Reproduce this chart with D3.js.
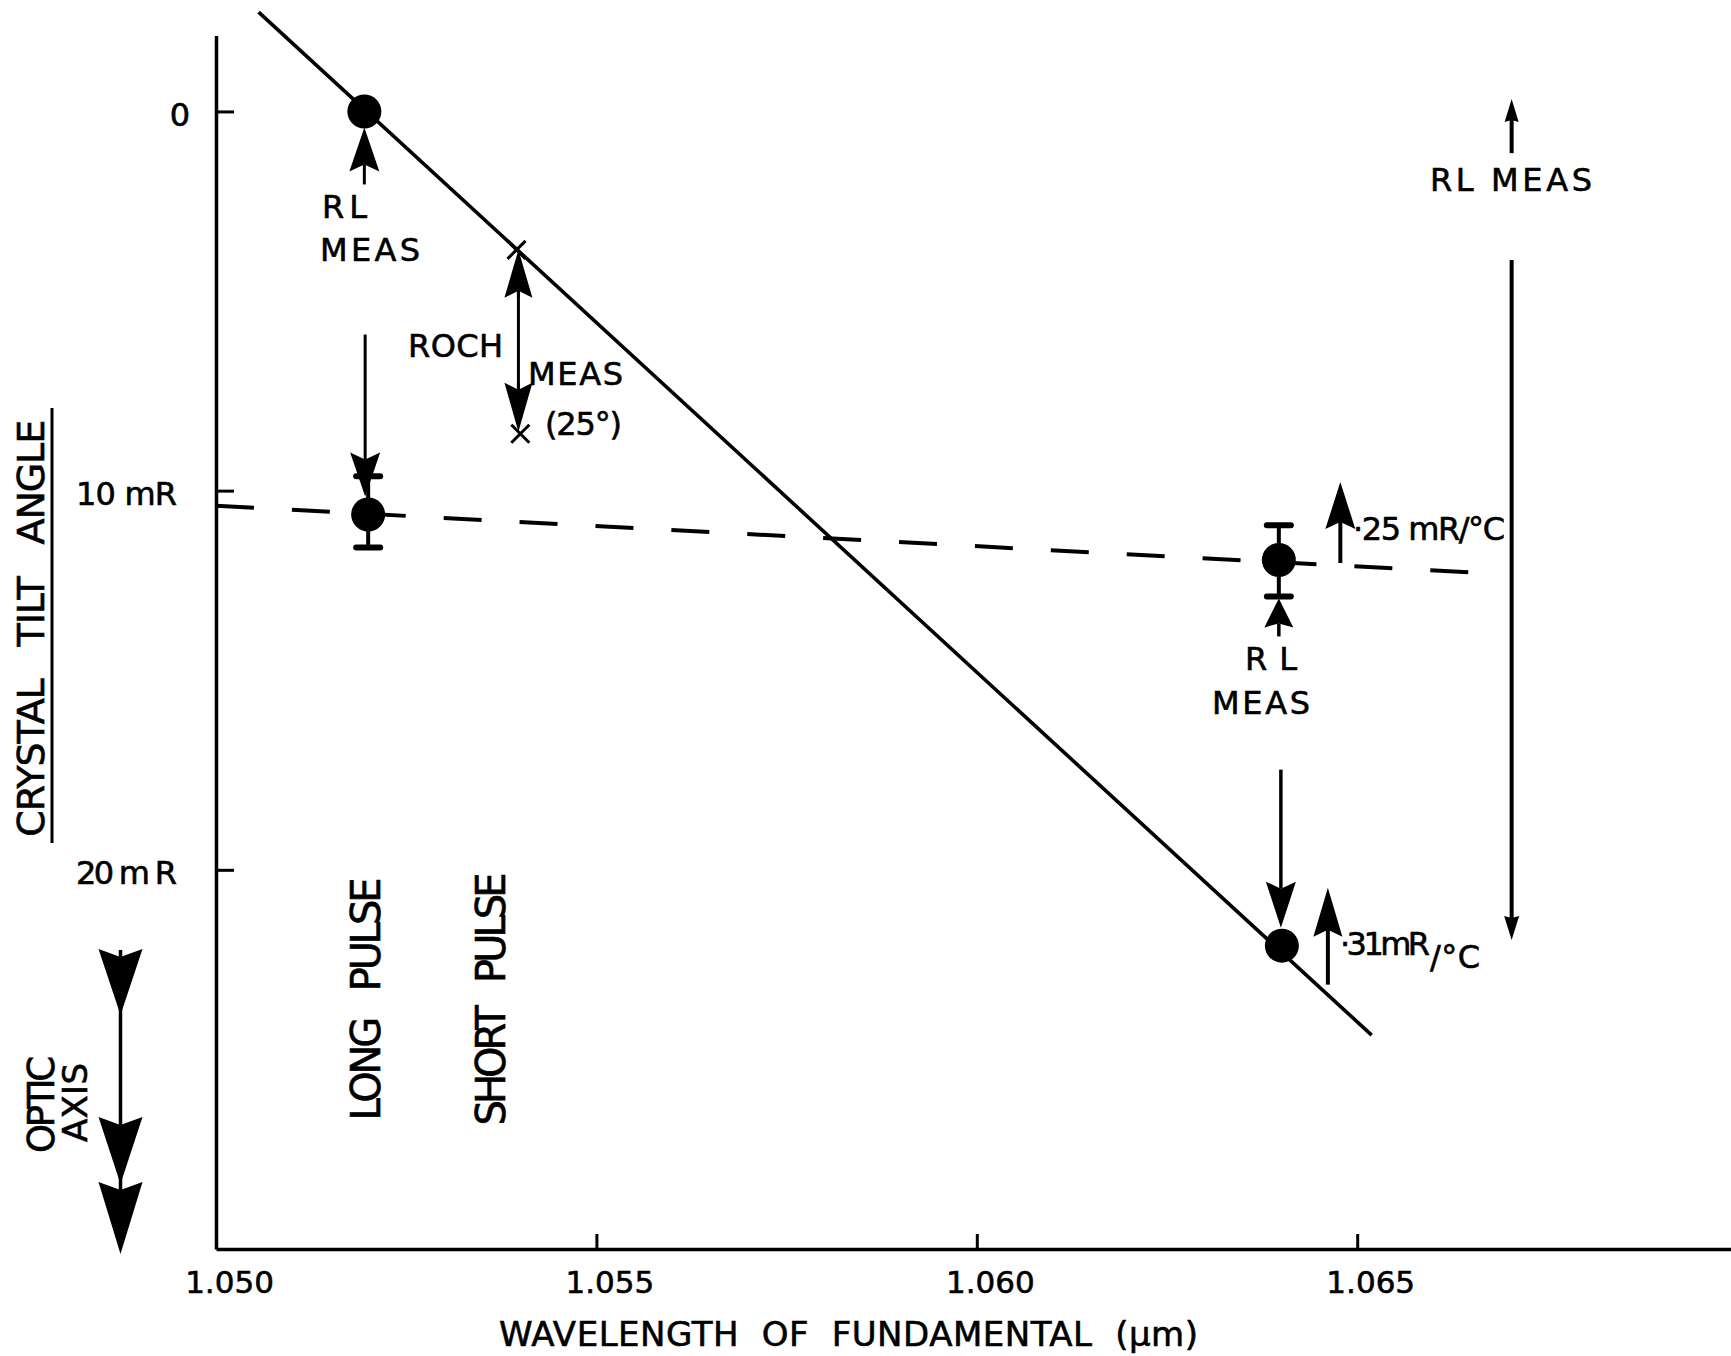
<!DOCTYPE html>
<html><head><meta charset="utf-8">
<script src="https://cdn.jsdelivr.net/npm/d3@7"></script>
<style>
html,body{margin:0;padding:0;background:#fff;}
svg{display:block;}
text{font-family:"DejaVu Sans",sans-serif;fill:#000;stroke:#000;stroke-width:0.6px;white-space:pre;}
</style></head><body>
<svg id="c" width="1731" height="1356"></svg>
<script>
// ---------------- data ----------------
const xTicks = [1.050, 1.055, 1.060, 1.065];
const xTickLabels = ["1.050", "1.055", "1.060", "1.065"];
const yTicks = [0, 10, 20];
const yTickLabels = ["0", "10 mR", "20 m R"];
const xTitle = "WAVELENGTH\u00a0 OF\u00a0 FUNDAMENTAL\u00a0 (µm)";
const yTitle = "CRYSTAL\u00a0\u00a0 TILT\u00a0\u00a0 ANGLE";
// solid line (through RL measurements, long/short pulse)
const solidLineX = [1.05056, 1.06519];
const solidLineY = [-2.62, 24.36];
// dashed line
const dashedLineX = [1.0500, 1.06651];
const dashedLineY = [10.40, 12.16];
// measured points (filled circles)
const pointX = [1.05195, 1.05200, 1.06397, 1.06401];
const pointY = [0.0, 10.63, 11.83, 22.0];
const errTop = [null, 9.62, 10.91, null];
const errBottom = [null, 11.50, 12.79, null];
// ROCH measurement crosses
const crossX = [1.05395, 1.05400];
const crossY = [3.65, 8.50];

// ---------------- chart ----------------
const svg = d3.select("#c");
const x = d3.scaleLinear([1.050, 1.070], [216, 1737.6]);
const y = d3.scaleLinear([-2, 30], [35.6, 1249]);
const K = "#000";

// axes
const gx = svg.append("g").attr("transform", `translate(0,${y(30)})`)
  .call(d3.axisBottom(x).tickValues(xTicks).tickSizeInner(-15).tickSizeOuter(0)
    .tickFormat((d, i) => xTickLabels[i]));
gx.select(".domain").attr("stroke", K).attr("stroke-width", 3.5);
gx.selectAll(".tick line").attr("stroke", K).attr("stroke-width", 3);
gx.selectAll(".tick text").attr("font-family", "DejaVu Sans").attr("font-size", 31)
  .attr("fill", K).attr("y", 44).attr("dy", 0).attr("dx", 13);

const gy = svg.append("g").attr("transform", `translate(${x(1.050)},0)`)
  .call(d3.axisLeft(y).tickValues(yTicks).tickSizeInner(-18).tickSizeOuter(0)
    .tickFormat((d, i) => yTickLabels[i]));
gy.select(".domain").attr("stroke", K).attr("stroke-width", 3.5);
gy.selectAll(".tick line").attr("stroke", K).attr("stroke-width", 3);
gy.selectAll(".tick text").attr("font-family", "DejaVu Sans").attr("font-size", 32)
  .attr("fill", K).attr("dy", 0).attr("y", 14)
  .attr("x", (d, i) => yTickLabels[i].length > 1 ? -39 : -26)
  .each(function (d, i) {
    if (yTickLabels[i].length > 1) d3.select(this).attr("textLength", 101).attr("lengthAdjust", "spacing");
  });

// axis titles
svg.append("text").attr("x", 848.5).attr("y", 1346).attr("text-anchor", "middle")
  .attr("font-size", 34).attr("textLength", 699).attr("lengthAdjust", "spacing").text(xTitle);
svg.append("text").attr("transform", "translate(44,628.3) rotate(-90)").attr("text-anchor", "middle")
  .attr("font-size", 38).attr("textLength", 417).attr("lengthAdjust", "spacing").text(yTitle);
svg.append("line").attr("x1", 52).attr("x2", 52).attr("y1", 408).attr("y2", 843)
  .attr("stroke", K).attr("stroke-width", 3);

// lines
const line = d3.line().x(d => x(d[0])).y(d => y(d[1]));
svg.append("path").attr("d", line(d3.zip(solidLineX, solidLineY)))
  .attr("fill", "none").attr("stroke", K).attr("stroke-width", 3.6);
svg.append("path").attr("d", line(d3.zip(dashedLineX, dashedLineY)))
  .attr("fill", "none").attr("stroke", K).attr("stroke-width", 4).attr("stroke-dasharray", "38,38");

// arrow helper: tip at (ax, tipY), tail at tailY; head length len, half width hw
function arrow(ax, tipY, tailY, len, hw, sw, notch) {
  const dir = tipY > tailY ? 1 : -1;
  const baseY = tipY - dir * len;
  notch = notch === undefined ? 7 : notch;
  svg.append("line").attr("x1", ax).attr("x2", ax).attr("y1", tailY).attr("y2", baseY + dir * notch)
    .attr("stroke", K).attr("stroke-width", sw || 3);
  svg.append("path")
    .attr("d", `M${ax},${tipY}L${ax - hw},${baseY}L${ax},${baseY + dir * notch}L${ax + hw},${baseY}Z`)
    .attr("fill", K);
}

// error bars
pointX.forEach((px, i) => {
  if (errTop[i] == null) return;
  const cx = x(px);
  svg.append("line").attr("x1", cx).attr("x2", cx).attr("y1", y(errTop[i])).attr("y2", y(errBottom[i]))
    .attr("stroke", K).attr("stroke-width", 4);
  [errTop[i], errBottom[i]].forEach(v => {
    svg.append("line").attr("x1", cx - 12).attr("x2", cx + 12).attr("y1", y(v)).attr("y2", y(v))
      .attr("stroke", K).attr("stroke-width", 6).attr("stroke-linecap", "round");
  });
});

// points
svg.selectAll("circle.pt").data(d3.zip(pointX, pointY)).join("circle")
  .attr("class", "pt").attr("cx", d => x(d[0])).attr("cy", d => y(d[1])).attr("r", 17).attr("fill", K);

// crosses
d3.zip(crossX, crossY).forEach(d => {
  const cx = x(d[0]), cy = y(d[1]), s = 9;
  svg.append("path").attr("d", `M${cx - s},${cy - s}L${cx + s},${cy + s}M${cx - s},${cy + s}L${cx + s},${cy - s}`)
    .attr("stroke", K).attr("stroke-width", 3);
});

// ---- annotations ----
const P = pointX.map((v, i) => [x(v), y(pointY[i])]);
// RL MEAS under first point (up arrow)
arrow(P[0][0], P[0][1] + 16, P[0][1] + 73, 44, 15, 3);
// long down arrow to second point
arrow(P[1][0] - 3, P[1][1] - 18, P[1][1] - 180, 44, 15, 3);
// ROCH double arrow between crosses
{
  const ax = (x(crossX[0]) + x(crossX[1])) / 2;
  const t = y(crossY[0]), b = y(crossY[1]) - 2;
  svg.append("line").attr("x1", ax).attr("x2", ax).attr("y1", t + 40).attr("y2", b - 40)
    .attr("stroke", K).attr("stroke-width", 3);
  arrow(ax, t, t + 48, 48, 14, 3);
  arrow(ax, b, b - 49, 49, 14, 3);
}
// RL MEAS under third point (up arrow)
arrow(P[2][0], y(errBottom[2]) + 2, y(errBottom[2]) + 40, 29, 14.5, 3.5, 4);
// 25 mR/°C up arrow
arrow(P[2][0] + 61.5, P[2][1] - 78, P[2][1] + 3, 47, 15, 4);
// down arrow to fourth point
arrow(P[3][0] - 1, P[3][1] - 18, P[3][1] - 176, 46, 15, 3.5);
// 31 mR/°C up arrow
arrow(P[3][0] + 46, P[3][1] - 58, P[3][1] + 39, 49, 14.5, 4);
// right RL MEAS arrows
arrow(x(1.06703), y(-0.33), y(1.10), 23, 7, 4, 2);
arrow(x(1.06703), y(21.85), y(3.92), 24, 7.5, 4, 2);
// optic axis arrows
{
  const ox = 120.5;
  svg.append("line").attr("x1", ox).attr("x2", ox).attr("y1", 950).attr("y2", 1245)
    .attr("stroke", K).attr("stroke-width", 3.5);
  [[1015, 66], [1184, 67], [1254, 72]].forEach(([tip, len]) => {
    const base = tip - len, hw = 22, n = 8;
    svg.append("path").attr("d", `M${ox},${tip}L${ox - hw},${base}L${ox},${base + n}L${ox + hw},${base}Z`).attr("fill", K);
  });
}

// annotation texts
function label(txt, x0, yb, len, fs) {
  const t = svg.append("text").attr("x", x0).attr("y", yb).attr("font-size", fs || 32).text(txt);
  if (len) t.attr("textLength", len).attr("lengthAdjust", "spacing");
  return t;
}
label("RL", 322, 218, 45);
label("MEAS", 320, 261, 100);
label("ROCH", 408, 357, 95);
label("MEAS", 528, 385, 95);
label("(25°)", 545, 435, 77);
label("RL", 1245, 670, 52);
label("MEAS", 1212, 714, 98);
label("·25 mR/°C", 1353, 540, 152);
label("·31mR", 1340, 955, 90);
label("/°C", 1430, 968, 50);
label("RL MEAS", 1430, 191, 162);

function vlabel(txt, cx, cy, len, fs) {
  svg.append("text").attr("transform", `translate(${cx},${cy}) rotate(-90)`).attr("text-anchor", "middle")
    .attr("font-size", fs).attr("textLength", len).attr("lengthAdjust", "spacing").text(txt);
}
vlabel("LONG\u00a0\u00a0 PULSE", 380, 999, 243, 40);
vlabel("SHORT\u00a0\u00a0 PULSE", 505, 999, 253, 40);
vlabel("OPTIC", 54, 1104.5, 97, 37);
vlabel("AXIS", 87, 1102.5, 79, 34);
</script>
</body></html>
